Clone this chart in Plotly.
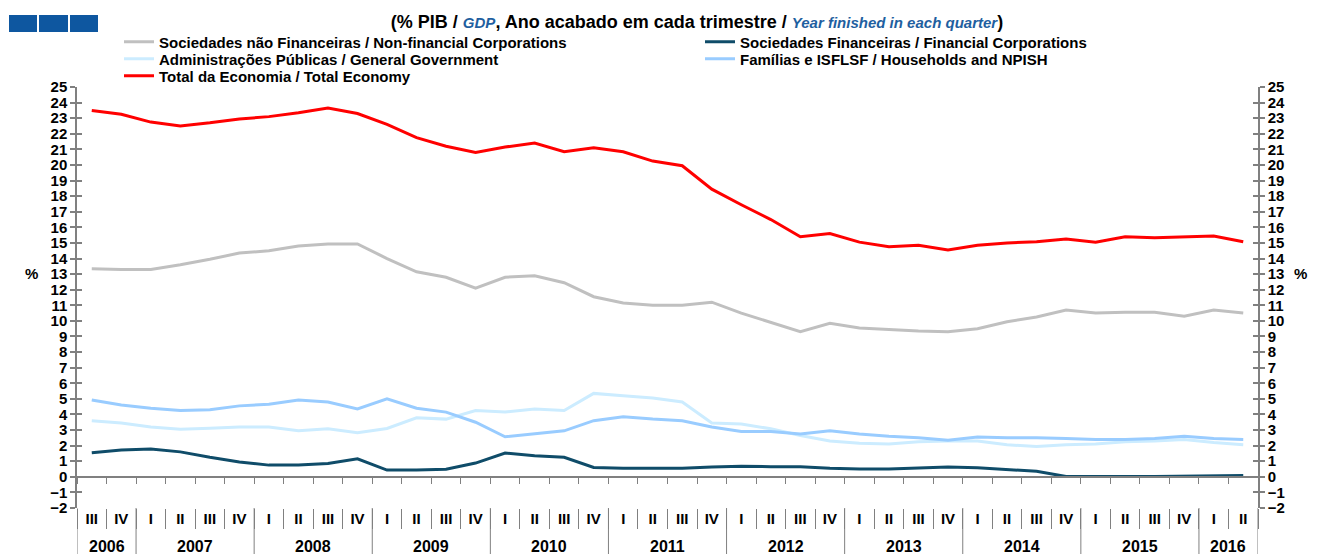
import plotly.graph_objects as go

# quarters from 2006 III to 2016 II
years = ["2006"] * 2 + [str(y) for y in range(2007, 2016) for _ in range(4)] + ["2016"] * 2
quarters = ["III", "IV"] + ["I", "II", "III", "IV"] * 9 + ["I", "II"]

non_financial = [13.35, 13.3, 13.3, 13.6, 13.95, 14.35, 14.5, 14.8, 14.93, 14.93,
                 14.0, 13.15, 12.8, 12.1, 12.8, 12.9, 12.45, 11.55, 11.15, 11.0,
                 11.0, 11.2, 10.5, 9.9, 9.3, 9.85, 9.55, 9.45, 9.35, 9.3,
                 9.5, 9.95, 10.25, 10.7, 10.5, 10.55, 10.55, 10.3, 10.7, 10.5]
financial = [1.55, 1.72, 1.78, 1.6, 1.25, 0.95, 0.75, 0.75, 0.85, 1.15,
             0.43, 0.43, 0.48, 0.88, 1.53, 1.35, 1.25, 0.6, 0.55, 0.55,
             0.55, 0.63, 0.68, 0.65, 0.65, 0.55, 0.5, 0.5, 0.55, 0.63,
             0.58, 0.45, 0.35, 0.02, 0.0, 0.02, 0.02, 0.03, 0.08, 0.08]
government = [3.6, 3.45, 3.2, 3.05, 3.12, 3.2, 3.2, 2.95, 3.08, 2.83,
              3.1, 3.78, 3.7, 4.25, 4.15, 4.35, 4.25, 5.35, 5.2, 5.05,
              4.8, 3.45, 3.38, 3.08, 2.65, 2.3, 2.15, 2.1, 2.25, 2.3,
              2.3, 2.05, 1.95, 2.05, 2.1, 2.25, 2.3, 2.4, 2.2, 2.05]
households = [4.93, 4.6, 4.4, 4.25, 4.3, 4.55, 4.65, 4.93, 4.8, 4.35,
              5.0, 4.4, 4.15, 3.5, 2.57, 2.75, 2.95, 3.6, 3.85, 3.7,
              3.6, 3.2, 2.9, 2.9, 2.75, 2.95, 2.75, 2.6, 2.5, 2.35,
              2.55, 2.5, 2.5, 2.45, 2.4, 2.4, 2.45, 2.6, 2.45, 2.4]
total = [23.5, 23.25, 22.75, 22.5, 22.7, 22.95, 23.1, 23.35, 23.65, 23.3,
         22.6, 21.75, 21.2, 20.8, 21.15, 21.4, 20.85, 21.1, 20.85, 20.25,
         19.95, 18.45, 17.45, 16.5, 15.4, 15.6, 15.05, 14.75, 14.85, 14.55,
         14.85, 15.0, 15.07, 15.25, 15.05, 15.4, 15.33, 15.4, 15.45, 15.07]

series = [
    ("Sociedades não Financeiras / Non-financial Corporations", non_financial, "#C0C0C0", "legend"),
    ("Sociedades Financeiras / Financial Corporations", financial, "#0F4C69", "legend"),
    ("Administrações Públicas / General Government", government, "#CCECFF", "legend2"),
    ("Famílias e ISFLSF / Households and NPISH", households, "#99CCFF", "legend2"),
    ("Total da Economia / Total Economy", total, "#FF0000", "legend3"),
]

# the page puts the figure 8px in from the top-left corner
OFF = 8
W, H = 1319 - OFF, 554 - OFF
L, R, T, B = 77, 1258, 87, 508   # plot area in window pixels
FONT = "Liberation Sans, Arial, sans-serif"
GREY = "#808080"
n = len(quarters)
idx = list(range(n))
bounds = [i - 0.5 for i in range(n + 1)]


def px(x):
    return (x - L) / (R - L)


def py(y):
    return (B - y) / (B - T)


def cx(x):
    return (x - OFF) / W


def cy(y):
    return 1 - (y - OFF) / H


fig = go.Figure()
for name, vals, color, leg in series:
    fig.add_trace(go.Scatter(x=idx, y=vals, name=name, mode="lines",
                             line=dict(color=color, width=3), legend=leg,
                             customdata=[f"{q} {y}" for q, y in zip(quarters, years)],
                             hovertemplate="%{customdata}: %{y}<extra></extra>"))

# helper traces so the overlay axes get drawn
for ya in ["y2", "y3", "y4"]:
    fig.add_trace(go.Scatter(x=[], y=[], xaxis="x2", yaxis=ya, showlegend=False, hoverinfo="skip"))

boldfont = dict(family=FONT, size=15, color="black", weight="bold")
yaxis_common = dict(range=[-2, 25], dtick=1, tick0=0, showgrid=False, zeroline=False,
                    ticklen=5, tickcolor=GREY, tickwidth=1.5, tickfont=boldfont)

leg_common = dict(orientation="h", xref="container", yref="container", xanchor="left",
                  yanchor="middle", entrywidth=536, entrywidthmode="pixels",
                  font=dict(family=FONT, size=15, color="black", weight="bold"),
                  bgcolor="rgba(0,0,0,0)", itemclick=False, itemdoubleclick=False)

fig.update_layout(
    width=W, height=H,
    margin=dict(l=L - OFF, r=W - (R - OFF), t=T - OFF, b=H - (B - OFF), autoexpand=False),
    plot_bgcolor="white", paper_bgcolor="white",
    font=dict(family=FONT),
    showlegend=True,
    title=dict(
        text="(% PIB / <b><i><span style='color:#1F5FA0;font-size:15px'>GDP</span></i></b>, "
             "Ano acabado em cada trimestre / "
             "<b><i><span style='color:#1F5FA0;font-size:15px'>Year finished in each quarter</span></i></b>)",
        x=cx(697), xanchor="center", y=cy(22), yanchor="middle",
        font=dict(family=FONT, size=18, color="black", weight="bold")),
    xaxis=dict(range=[-0.5, n - 0.5], showgrid=False, zeroline=False, showline=False,
               tickmode="array", tickvals=idx, ticktext=quarters, ticks="",
               minor=dict(tickmode="array", tickvals=bounds, ticks="outside", ticklen=20,
                          tickcolor=GREY, tickwidth=1),
               tickfont=boldfont),
    xaxis2=dict(range=[-0.5, n - 0.5], overlaying="x", anchor="free", position=py(477),
                showgrid=False, zeroline=False, showline=True, linecolor=GREY, linewidth=1.5,
                ticks="outside", ticklen=6, tickcolor=GREY, tickwidth=1,
                tickmode="array", tickvals=bounds, showticklabels=False),
    yaxis=dict(**yaxis_common, showline=True, linecolor=GREY, linewidth=1.5, ticks="outside"),
    yaxis2=dict(**yaxis_common, showline=True, linecolor=GREY, linewidth=1.5, ticks="outside",
                overlaying="y", side="right", anchor="x"),
    yaxis3=dict(**yaxis_common, showline=False, ticks="inside", showticklabels=False,
                overlaying="y", side="left", anchor="x"),
    yaxis4=dict(**yaxis_common, showline=False, ticks="inside", showticklabels=False,
                overlaying="y", side="right", anchor="x"),
    legend=dict(**leg_common, x=cx(119), y=cy(42)),
    legend2=dict(**leg_common, x=cx(119), y=cy(59)),
    legend3=dict(**leg_common, x=cx(119), y=cy(76)),
)

# year labels and year dividers under the quarter labels
year_order = list(dict.fromkeys(years))
for yr in year_order:
    pos = [i for i, y in enumerate(years) if y == yr]
    fig.add_annotation(text=yr, xref="x", yref="paper", x=sum(pos) / len(pos), y=py(546),
                       xanchor="center", yanchor="middle", showarrow=False,
                       font=dict(family=FONT, size=16, color="black", weight="bold"))
    fig.add_shape(type="line", xref="x", yref="paper", x0=pos[0] - 0.5, x1=pos[0] - 0.5,
                  y0=0, y1=py(556), line=dict(color=GREY, width=1))
fig.add_shape(type="line", xref="x", yref="paper", x0=n - 0.5, x1=n - 0.5,
              y0=0, y1=py(556), line=dict(color=GREY, width=1))

# blue blocks at top left
for x0, x1 in [(9, 37), (39, 68), (70, 98)]:
    fig.add_shape(type="rect", xref="paper", yref="paper", x0=px(x0), x1=px(x1),
                  y0=py(32), y1=py(15), fillcolor="#0E57A0", line=dict(width=0), layer="above")

fig.add_annotation(text="%", xref="paper", yref="paper", x=px(31), y=py(273),
                   xanchor="center", yanchor="middle", showarrow=False, font=boldfont)
fig.add_annotation(text="%", xref="paper", yref="paper", x=px(1309), y=py(273),
                   xanchor="right", yanchor="middle", showarrow=False, font=boldfont)

fig.write_html("out.html")
